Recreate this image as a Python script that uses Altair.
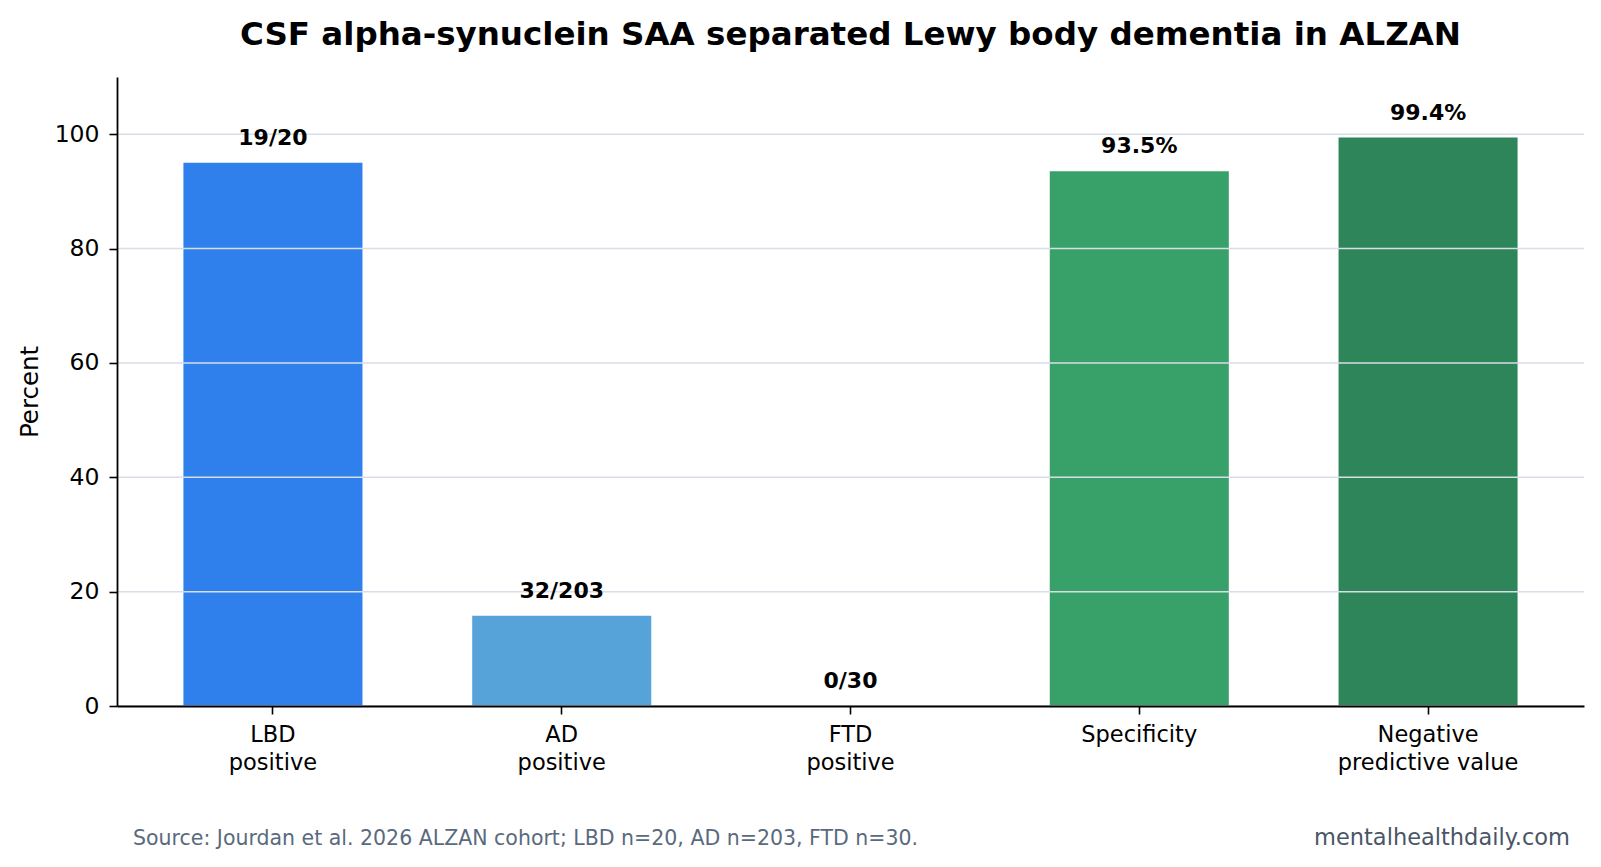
import altair as alt
import pandas as pd

# Chart values
categories = ["LBD\npositive", "AD\npositive", "FTD\npositive", "Specificity", "Negative\npredictive value"]
percents = [95.0, 32 / 203 * 100, 0.0, 93.5, 99.4]
bar_labels = ["19/20", "32/203", "0/30", "93.5%", "99.4%"]
bar_colors = ["#2f80ed", "#56a3d9", "#8fb8de", "#38a169", "#2f855a"]
y_ticks = [0, 20, 40, 60, 80, 100]

source_note = "Source: Jourdan et al. 2026 ALZAN cohort; LBD n=20, AD n=203, FTD n=30."
site = "mentalhealthdaily.com"

FONT = "DejaVu Sans"
W, H = 1467, 629

df = pd.DataFrame({"category": categories, "percent": percents, "label": bar_labels})
grid_df = pd.DataFrame({"tick": y_ticks})

y_scale = alt.Scale(domain=[0, 110], nice=False, zero=True)

x_enc = alt.X(
    "category:N",
    sort=categories,
    scale=alt.Scale(paddingInner=0.38, paddingOuter=0.23),
    axis=alt.Axis(
        title=None,
        labelAngle=0,
        labelExpr="split(datum.label, '\\n')",
        labelFont=FONT,
        labelFontSize=22.5,
        labelColor="#000000",
        labelLineHeight=28,
        labelPadding=9,
        labelLimit=500,
        tickSize=8,
        tickColor="#000000",
        tickWidth=1.6,
        domainColor="#000000",
        domainWidth=1.8,
        grid=False,
        zindex=1,
    ),
)

y_enc = alt.Y(
    "percent:Q",
    scale=y_scale,
    axis=alt.Axis(
        title="Percent",
        titleFont=FONT,
        titleFontSize=24.5,
        titleFontWeight="normal",
        titleColor="#000000",
        titlePadding=12,
        values=y_ticks,
        labelFont=FONT,
        labelFontSize=23.5,
        labelColor="#000000",
        labelPadding=10,
        tickSize=8,
        tickColor="#000000",
        tickWidth=1.6,
        domainColor="#000000",
        domainWidth=1.8,
        grid=False,
        zindex=1,
    ),
)

bars = alt.Chart(df).mark_bar().encode(
    x=x_enc,
    y=y_enc,
    color=alt.Color(
        "category:N",
        sort=categories,
        scale=alt.Scale(domain=categories, range=bar_colors),
        legend=None,
    ),
)

# horizontal grid lines sit above the bars but beneath the value labels
grid = alt.Chart(grid_df).mark_rule(color="#d8dde7", strokeWidth=1.5).encode(
    y=alt.Y("tick:Q", scale=y_scale),
    x=alt.value(0),
    x2=alt.value(W),
)

labels = alt.Chart(df).mark_text(
    font=FONT, fontSize=22, fontWeight="bold", color="#000000",
    baseline="middle", dy=-25,
).encode(
    x=alt.X("category:N", sort=categories),
    y="percent:Q",
    text="label:N",
)

note = alt.Chart(alt.Data(values=[{}])).mark_text(
    font=FONT, fontSize=20.5, color="#5a6a7e", align="left", baseline="middle",
).encode(x=alt.value(16), y=alt.value(762), text=alt.value(source_note))

brand = alt.Chart(alt.Data(values=[{}])).mark_text(
    font=FONT, fontSize=22.5, color="#4a5568", align="right", baseline="middle",
).encode(x=alt.value(1453), y=alt.value(761), text=alt.value(site))

chart = alt.layer(bars, grid, labels, note, brand).properties(
    width=W,
    height=H,
    autosize=alt.AutoSizeParams(type="none"),
    padding={"left": 117, "top": 77, "right": 17, "bottom": 161},
    title=alt.TitleParams(
        "CSF alpha-synuclein SAA separated Lewy body dementia in ALZAN",
        font=FONT, fontSize=32.5, fontWeight="bold", color="#000000",
        anchor="middle", offset=26,
    ),
).configure(background="#ffffff", view=alt.ViewConfig(stroke=None))

chart.save("out.html", embed_options={"renderer": "svg", "actions": False})
